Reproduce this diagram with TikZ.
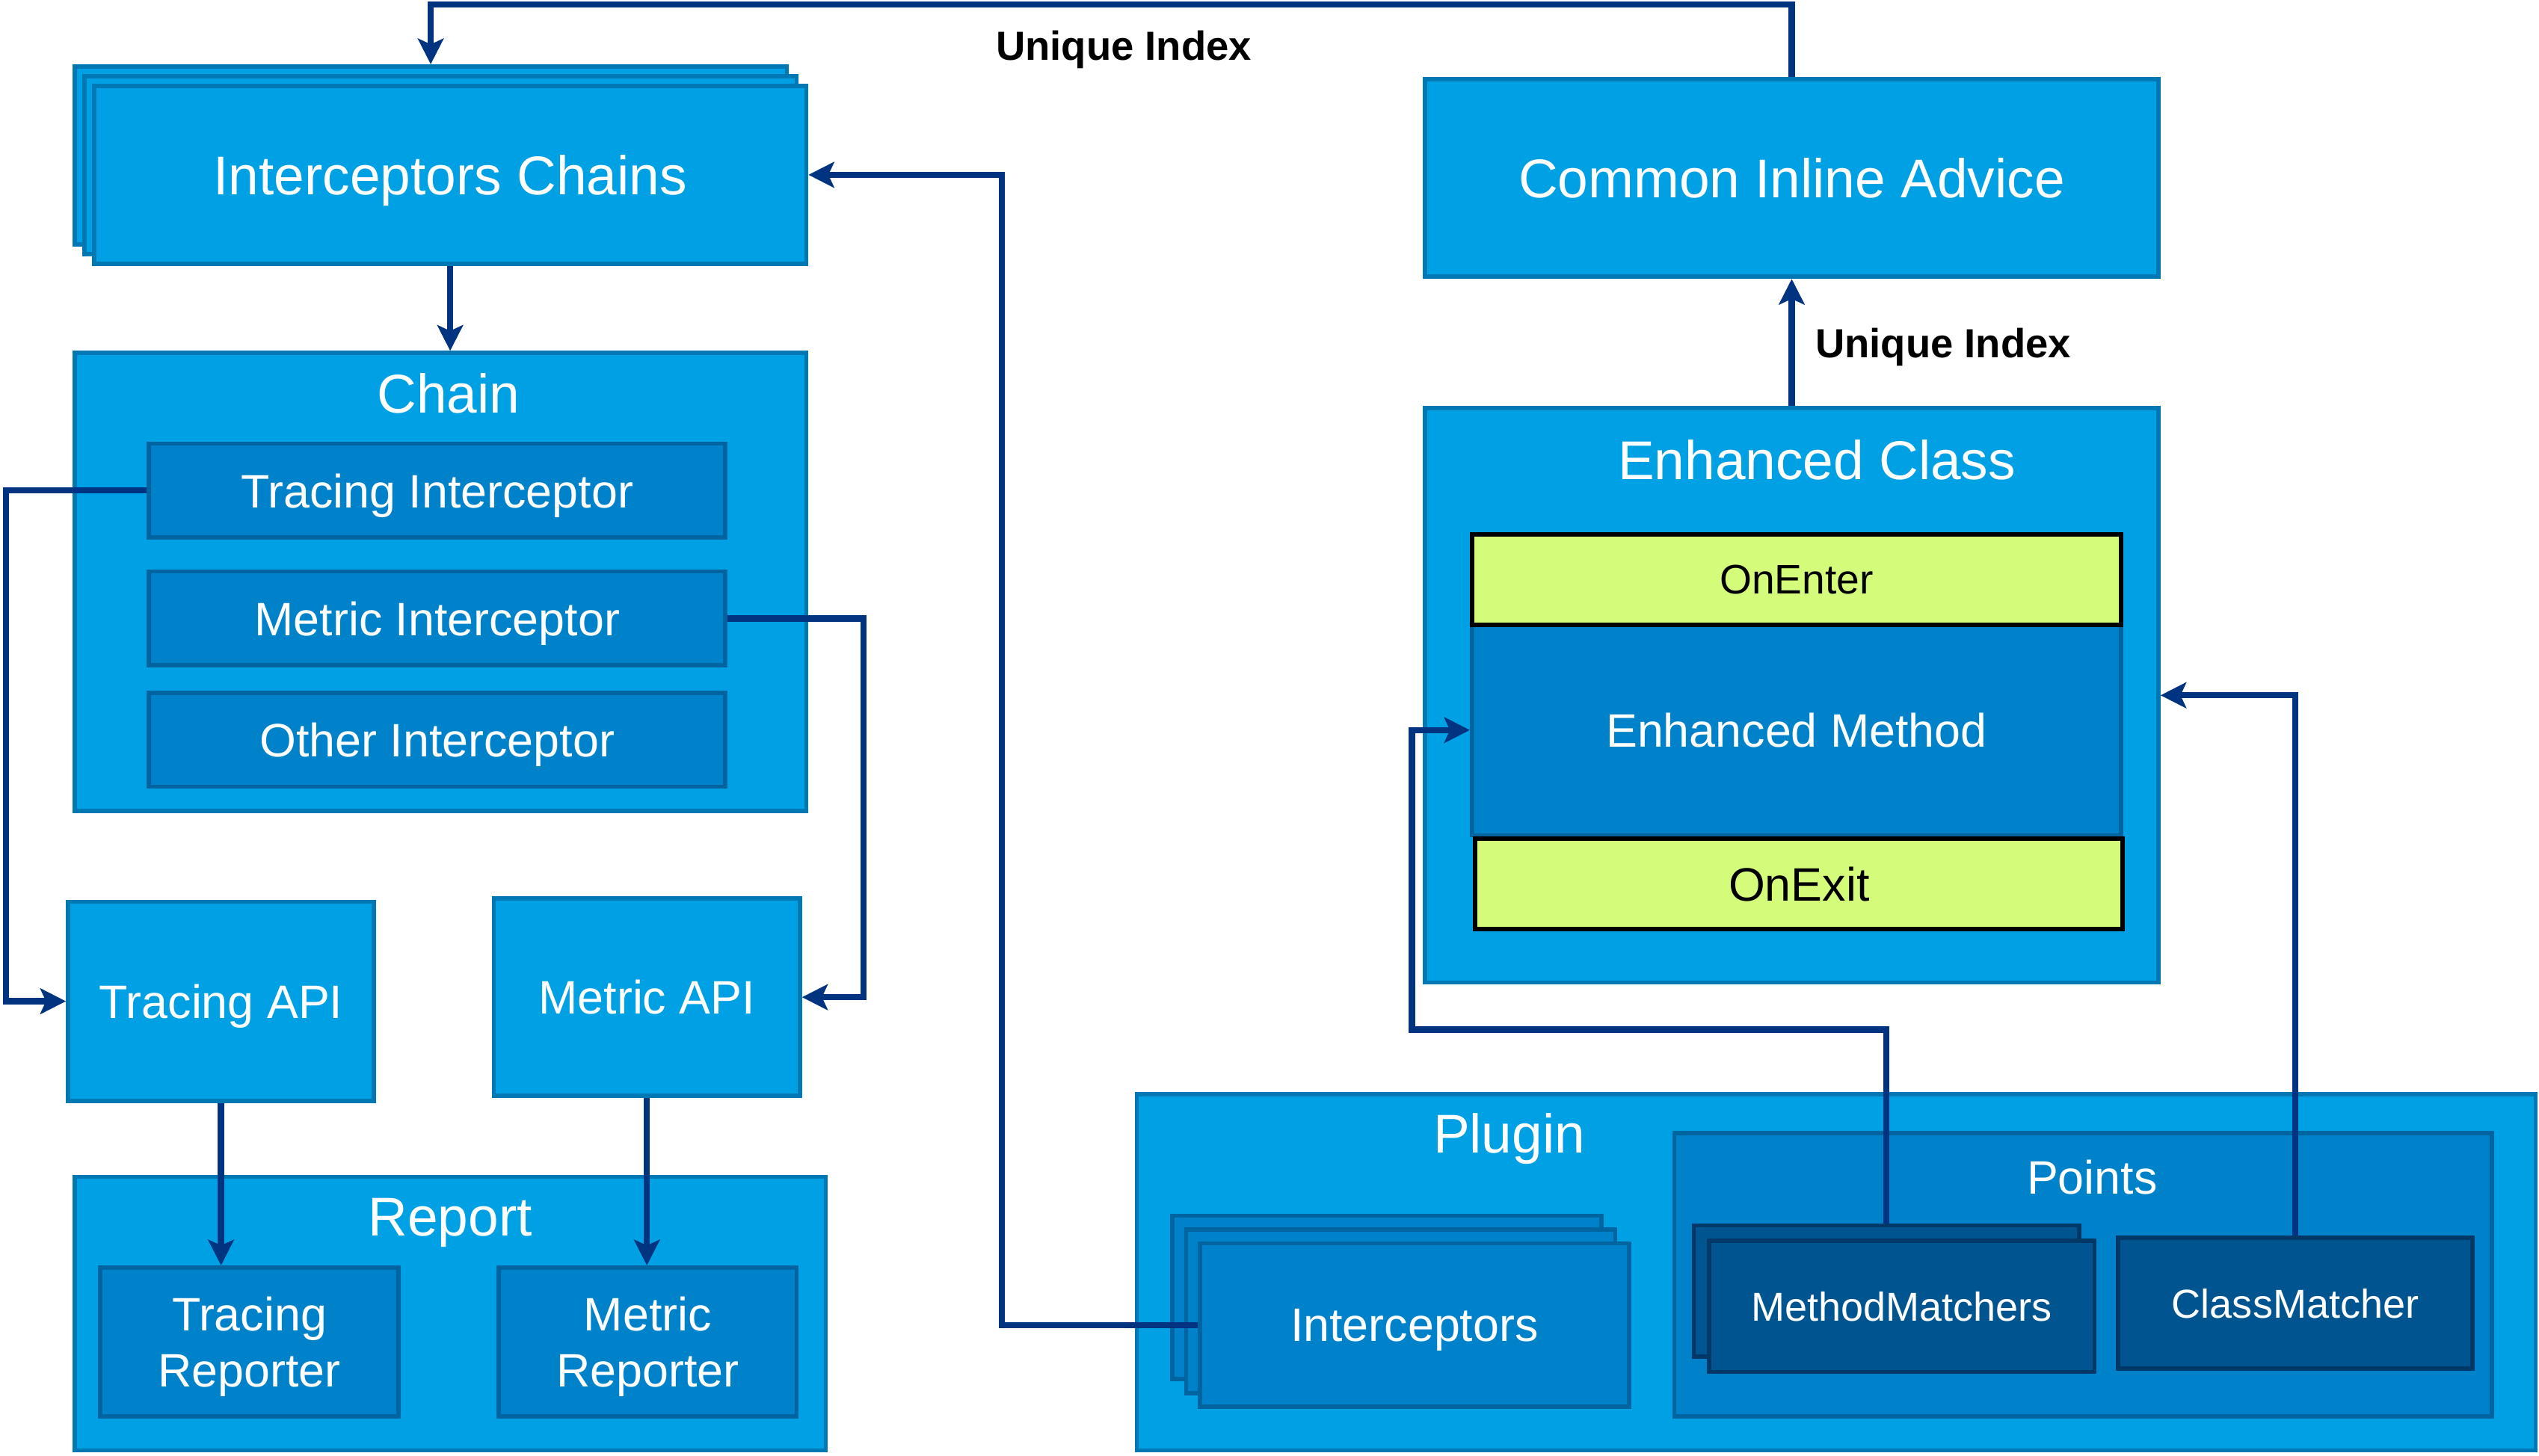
\documentclass[tikz,border=0pt]{standalone}
\usepackage{fontspec}
\setmainfont{Liberation Sans}
\usetikzlibrary{arrows.meta}
\definecolor{skyfill}{RGB}{0,160,228}
\definecolor{skyline}{RGB}{0,120,180}
\definecolor{midfill}{RGB}{0,130,202}
\definecolor{midline}{RGB}{0,100,160}
\definecolor{deepfill}{RGB}{0,84,144}
\definecolor{deepline}{RGB}{0,56,104}
\definecolor{hookfill}{RGB}{212,252,122}
\definecolor{navy}{RGB}{0,52,128}
\tikzset{
  sky/.style={draw=skyline, fill=skyfill, line width=1.5pt, text=white, inner sep=0pt, text depth=0pt, align=center, font=\fontsize{16.5}{19.8}\selectfont},
  mid/.style={sky, draw=midline, fill=midfill},
  deep/.style={sky, draw=deepline, fill=deepfill, font=\fontsize{14.2}{17}\selectfont},
  hook/.style={sky, draw=black, fill=hookfill, text=black},
  big/.style={font=\fontsize{19.2}{22}\selectfont},
  ttl/.style={text=white, inner sep=0pt, text depth=0pt, big},
  idx/.style={inner sep=0pt, text depth=0pt, font=\bfseries\fontsize{14.3}{17}\selectfont},
  link/.style={draw=navy, line width=2.2pt, -{Stealth[length=9pt,width=9pt,inset=2pt]}},
}
\begin{document}
\begin{tikzpicture}[x=0.02cm, y=-0.02cm, line join=miter]
\useasboundingbox (0,0) rectangle (1568,899);
% left column
\foreach \nm/\d in {icb/0, icm/6}
  \node[sky, minimum width=8.8cm, minimum height=2.2cm] (\nm) at (266+\d,96+\d) {};
\node[sky, big, minimum width=8.8cm, minimum height=2.2cm] (icf) at (278,108) {Interceptors Chains};
\node[sky, minimum width=9.04cm, minimum height=5.66cm] (chain) at (272,359.5) {};
\node[ttl] (chaint) at (277,243) {Chain};
\foreach \nm/\y/\t in {ti/303/Tracing Interceptor, mi/382/Metric Interceptor, oi/457/Other Interceptor}
  \node[mid, minimum width=7.12cm, minimum height=1.16cm] (\nm) at (270,\y) {\t};
\node[sky, minimum width=3.78cm, minimum height=2.46cm] (ta) at (136.5,618.5) {Tracing API};
\node[sky, minimum width=3.78cm, minimum height=2.44cm] (ma) at (399.5,616) {Metric API};
\node[sky, minimum width=9.28cm, minimum height=3.38cm] (report) at (278,811.5) {};
\node[ttl] (reportt) at (278,752) {Report};
\node[mid, minimum width=3.68cm, minimum height=1.84cm] (tr) at (154,829) {Tracing\\Reporter};
\node[mid, minimum width=3.68cm, minimum height=1.84cm] (mr) at (400,829) {Metric\\Reporter};
% right column
\node[sky, big, minimum width=9.06cm, minimum height=2.44cm] (cia) at (1106.5,110) {Common Inline Advice};
\node[sky, minimum width=9.06cm, minimum height=7.1cm] (ec) at (1106.5,429.5) {};
\node[ttl] (ect) at (1122,284) {Enhanced Class};
\node[mid, minimum width=8.02cm, minimum height=2.6cm] (em) at (1109.5,451) {Enhanced Method};
\node[hook, font=\fontsize{14.5}{17}\selectfont, minimum width=8.02cm, minimum height=1.12cm] (enter) at (1109.5,358) {OnEnter};
\node[hook, minimum width=8cm, minimum height=1.12cm] (exit) at (1111,546) {OnExit};
% plugin
\node[sky, minimum width=17.28cm, minimum height=4.4cm] (plugin) at (1134,786) {};
\node[ttl] (plugint) at (932,700) {Plugin};
\foreach \nm/\d in {intb/0, intm/8.5}
  \node[mid, minimum width=5.3cm, minimum height=2.02cm] (\nm) at (856.5+\d,801.5+\d) {};
\node[mid, minimum width=5.3cm, minimum height=2.02cm] (intf) at (873.5,818.5) {Interceptors};
\node[mid, minimum width=10.1cm, minimum height=3.5cm] (points) at (1286.5,787.5) {};
\node[ttl, font=\fontsize{16.5}{19.8}\selectfont] (pointst) at (1292,727) {Points};
\node[deep, minimum width=4.76cm, minimum height=1.62cm] (mmb) at (1165,797.5) {};
\node[deep, minimum width=4.76cm, minimum height=1.62cm] (mmf) at (1174.5,807) {MethodMatchers};
\node[deep, minimum width=4.38cm, minimum height=1.61cm] (cm) at (1417.5,805) {ClassMatcher};
% connectors
\draw[link] (cia.north) -- ++(0,-45) -| (icb.north);
\node[idx] (uidxa) at (694,28) {Unique Index};
\draw[link] (icf.south) -- (icf.south |- chain.north);
\draw[link] (ti.west) -- ++(-87,0) |- (ta.west);
\draw[link] (mi.east) -- ++(84,0) |- (ma.east);
\draw[link] (ta.south) -- (ta.south |- tr.north);
\draw[link] (ma.south) -- (ma.south |- mr.north);
\draw[link] (ec.north) -- (cia.south);
\node[idx] (uidxb) at (1200,212) {Unique Index};
\draw[link] (intf.west) -- ++(-121,0) |- (icf.east);
\coordinate (bend) at (872,636);
\draw[link] (mmb.north) |- (bend) |- (em.west);
\draw[link] (cm.north) |- (ec.east);
\end{tikzpicture}
\end{document}
